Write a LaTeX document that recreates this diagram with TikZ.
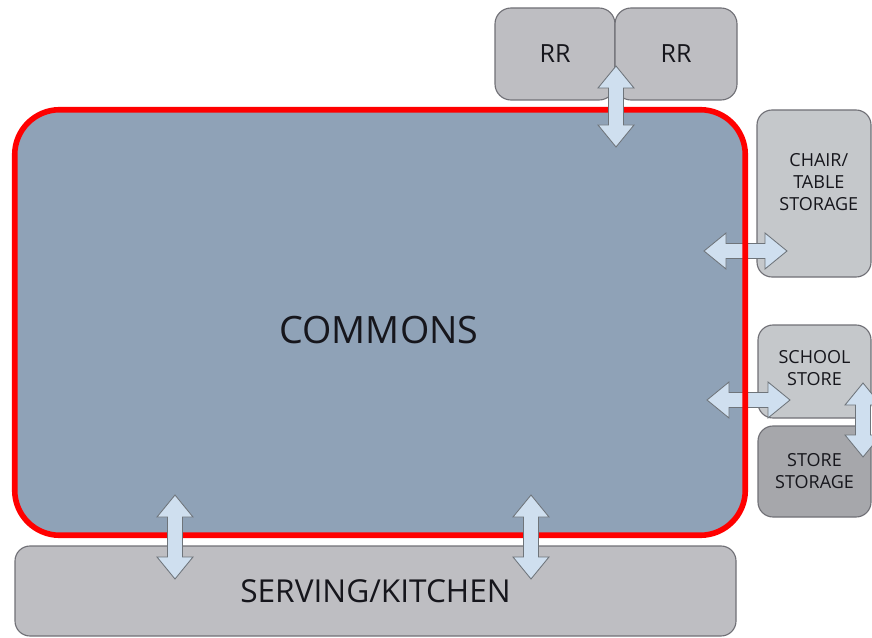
\documentclass[tikz,border=0pt]{standalone}
\usepackage{fontspec}
\setmainfont{Open Sans}
\usepackage{xcolor}
\usepackage{tikz}
\usetikzlibrary{arrows.meta,positioning,calc}
\definecolor{commonsblue}{RGB}{143,162,183}
\definecolor{roomgray}{RGB}{190,190,194}
\definecolor{lightroom}{RGB}{197,200,203}
\definecolor{darkroom}{RGB}{166,167,171}
\definecolor{roomedge}{RGB}{112,112,118}
\definecolor{arrowfill}{RGB}{207,223,239}
\definecolor{arrowedge}{RGB}{110,116,122}
\definecolor{labeltext}{RGB}{22,22,28}
\tikzset{
  room/.style={draw=roomedge,line width=0.8pt,rounded corners=0.4cm,inner sep=0pt,text=labeltext,align=center},
  arrowbody/.style={draw=arrowedge,fill=arrowfill,line width=0.6pt,line join=miter},
  pics/twoway/.style={code={
    \path[arrowbody] ({-#1/2},0) -- ({-#1/2+0.55},0.45) -- ({-#1/2+0.55},0.1875)
      -- ({#1/2-0.55},0.1875) -- ({#1/2-0.55},0.45) -- ({#1/2},0)
      -- ({#1/2-0.55},-0.45) -- ({#1/2-0.55},-0.1875) -- ({-#1/2+0.55},-0.1875)
      -- ({-#1/2+0.55},-0.45) -- cycle;
  }},
  redline/.style={draw=red,line width=0.14cm,rounded corners=1.125cm}
}

\begin{document}
\begin{tikzpicture}[
  bigtext/.style={font=\fontsize{26.8}{30}\selectfont,text=labeltext},
  midtext/.style={font=\fontsize{22.5}{26}\selectfont},
  rrtext/.style={font=\fontsize{17.8}{21}\selectfont},
  smalltext/.style={font=\fontsize{12.8}{15.6}\selectfont}
]
\clip (0,0) rectangle (21.8,15.925);

% main hall
\node[fill=commonsblue,minimum width=18.25cm,minimum height=10.625cm,
  rounded corners=1.125cm,inner sep=0pt] (commons) at (9.5,7.8625) {};
\node[bigtext] (commonslabel) at (9.475,7.675) {COMMONS};

% rooms round the hall
\node[room,fill=roomgray,rrtext,minimum width=3.0cm,minimum height=2.3cm] (rrA) at (13.875,14.575) {RR};
\node[room,fill=roomgray,rrtext,minimum width=3.05cm,minimum height=2.3cm] (rrB) at (16.9,14.575) {RR};
\node[room,fill=lightroom,minimum width=2.85cm,minimum height=4.175cm,rounded corners=0.375cm] (chair) at (20.35,11.0875) {};
\node[smalltext,text=labeltext,align=center] (chairlabel) at (20.47,11.375) {CHAIR/\\TABLE\\STORAGE};
\node[room,fill=lightroom,smalltext,minimum width=2.825cm,minimum height=2.325cm,rounded corners=0.375cm] (school) at (20.3625,6.6375)
  {SCHOOL\\STORE\\[-0.35cm]\mbox{}};
\node[room,fill=darkroom,smalltext,minimum width=2.825cm,minimum height=2.275cm,rounded corners=0.375cm] (storage) at (20.3625,4.1375)
  {STORE\\STORAGE};
\node[room,fill=roomgray,midtext,minimum width=18.025cm,minimum height=2.25cm,rounded corners=0.375cm] (serving) at (9.3875,1.15)
  {SERVING/KITCHEN};

% doors under the red outline
\pic (chairdoor) at (18.6375,9.65) {twoway=2.075};
\pic (schooldoor) at (18.7125,5.925) {twoway=2.075};

\draw[redline] (commons.south west) rectangle (commons.north east);

% doors over the red outline
\pic[rotate=90] (rrdoor) at (15.4,13.2625) {twoway=2.025};
\pic[rotate=90] (storedoor) at (21.575,5.425) {twoway=1.85};
\pic[rotate=90] (servedoorA) at (4.375,2.5) {twoway=2.1};
\pic[rotate=90] (servedoorB) at (13.275,2.5) {twoway=2.1};

\end{tikzpicture}
\end{document}
